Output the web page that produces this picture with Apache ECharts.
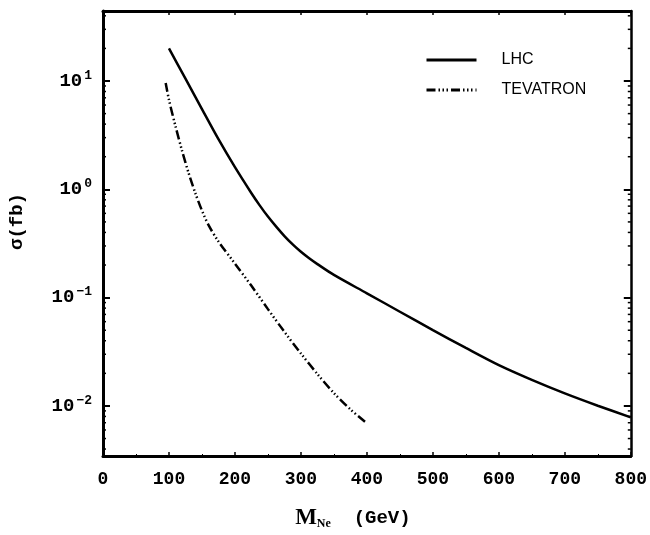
<!DOCTYPE html>
<html>
<head>
<meta charset="utf-8">
<script src="https://cdn.jsdelivr.net/npm/echarts@6/dist/echarts.min.js"></script>
<style>
  html, body { margin: 0; padding: 0; background: #fff; }
  #chart { width: 650px; height: 535px; }
</style>
</head>
<body>
<div id="chart"></div>
<script>
// values
const lhcMass = [100, 125, 150, 175, 200, 225, 237.5, 250, 262.5, 275, 287.5, 300, 312.5, 325, 350, 400, 450, 500, 550, 600, 650, 700, 750, 800];
const lhcSigma = [20, 10.5, 5.5, 2.9, 1.6, 0.92, 0.711, 0.56, 0.452, 0.37, 0.31, 0.265, 0.231, 0.204, 0.162, 0.1096, 0.0741, 0.0501, 0.0343, 0.0238, 0.0174, 0.01306, 0.01005, 0.00785];

const tevMass = [95, 100, 110, 120, 130, 140, 150, 160, 175, 200, 225, 250, 275, 300, 325, 350, 375, 400];
const tevSigma = [9.6, 6.7, 3.8, 2.25, 1.40, 0.92, 0.637, 0.467, 0.330, 0.206, 0.1285, 0.0783, 0.0483, 0.0305, 0.0197, 0.01315, 0.0093, 0.0069];

const xMin = 0, xMax = 800;
const yMin = 0.00345, yMax = 44.3;

// minor tick positions of the log axis (2..9 within each decade)
const minorTicks = [];
[0.001, 0.01, 0.1, 1, 10].forEach(d => {
    for (let m = 2; m <= 9; m++) {
        const v = d * m;
        if (v > yMin && v < yMax) minorTicks.push([v]);
    }
});

const monoFont = '"Liberation Mono", "DejaVu Sans Mono", monospace';
const serifFont = '"Liberation Serif", "DejaVu Serif", serif';

const chart = echarts.init(document.getElementById('chart'));

const baseX = {
    type: 'value',
    min: xMin,
    max: xMax,
    interval: 100,
    splitLine: { show: false },
    axisLine: { onZero: false, lineStyle: { color: '#000', width: 3 } },
    axisTick: { inside: true, length: 4, lineStyle: { color: '#000', width: 1.5 } },
    minorTick: { show: true, splitNumber: 2, length: 2, lineStyle: { color: '#000', width: 1 } },
    minorSplitLine: { show: false }
};

const baseY = {
    type: 'log',
    logBase: 10,
    min: yMin,
    max: yMax,
    splitLine: { show: false },
    axisLine: { onZero: false, lineStyle: { color: '#000', width: 3 } },
    axisTick: { inside: true, length: 7, lineStyle: { color: '#000', width: 2 } }
};

const option = {
    backgroundColor: '#fff',
    animation: false,
    grid: { left: 103, right: 18, top: 11, bottom: 79 },
    legend: {
        data: ['LHC', 'TEVATRON'],
        orient: 'vertical',
        left: 425,
        top: 52,
        padding: 0,
        itemWidth: 50,
        itemHeight: 14,
        itemGap: 14,
        itemStyle: { opacity: 0 },
        lineStyle: { width: 3 },
        textStyle: {
            fontFamily: '"Liberation Sans", Arial, sans-serif',
            fontSize: 16,
            color: '#000',
            padding: [0, 0, 0, 20]
        }
    },
    xAxis: [
        Object.assign({}, baseX, {
            position: 'bottom',
            name: '{m|M}{s|Ne}{g|  (GeV)}',
            nameLocation: 'middle',
            nameGap: 50,
            nameTextStyle: {
                padding: [0, 28, 0, 0],
                rich: {
                    m: { fontFamily: serifFont, fontWeight: 'bold', fontSize: 23, color: '#000' },
                    s: { fontFamily: serifFont, fontWeight: 'bold', fontSize: 12, color: '#000', verticalAlign: 'bottom', padding: [12, 0, 0, 0] },
                    g: { fontFamily: monoFont, fontWeight: 'bold', fontSize: 19, color: '#000' }
                }
            },
            axisLabel: {
                margin: 14,
                fontFamily: monoFont,
                fontWeight: 'bold',
                fontSize: 18,
                color: '#000'
            }
        }),
        Object.assign({}, baseX, {
            position: 'top',
            axisLabel: { show: false }
        })
    ],
    yAxis: [
        Object.assign({}, baseY, {
            position: 'left',
            name: 'σ(fb)',
            nameLocation: 'middle',
            nameGap: 76,
            nameTextStyle: {
                fontFamily: monoFont,
                fontWeight: 'bold',
                fontSize: 19,
                color: '#000',
                padding: [0, 0, 0, 24]
            },
            axisLabel: {
                margin: 11,
                showMinLabel: false,
                showMaxLabel: false,
                formatter: function (v) {
                    const e = Math.round(Math.log10(v));
                    return '{b|10}{e|' + (e < 0 ? '\u2212' + (-e) : e) + '}';
                },
                rich: {
                    b: { fontFamily: monoFont, fontWeight: 'bold', fontSize: 19, color: '#000', lineHeight: 24 },
                    e: { fontFamily: monoFont, fontWeight: 'bold', fontSize: 13, color: '#000', verticalAlign: 'top', lineHeight: 24, padding: [0, 0, 0, 2] }
                }
            }
        }),
        Object.assign({}, baseY, {
            position: 'right',
            axisLine: { onZero: false, lineStyle: { color: '#000', width: 2.5 } },
            axisLabel: { show: false }
        })
    ],
    series: [
        {
            name: 'LHC',
            type: 'line',
            data: lhcMass.map((m, i) => [m, lhcSigma[i]]),
            smooth: 0.3,
            symbol: 'none',
            lineStyle: { color: '#000', width: 2.5 },
            itemStyle: { color: '#000' }
        },
        {
            name: 'TEVATRON',
            type: 'line',
            data: tevMass.map((m, i) => [m, tevSigma[i]]),
            smooth: 0.3,
            symbol: 'none',
            lineStyle: { color: '#000', width: 2.5, type: [9, 3, 1.5, 2.5, 1.5, 2.5, 1.5, 3] },
            itemStyle: { color: '#000' }
        },
        {
            // log-spaced minor ticks on left and right axes
            type: 'custom',
            silent: true,
            data: minorTicks,
            encode: { y: 0 },
            renderItem: function (params, api) {
                const v = api.value(0);
                const l = api.coord([xMin, v]);
                const r = api.coord([xMax, v]);
                const style = { stroke: '#000', lineWidth: 1.5 };
                return {
                    type: 'group',
                    children: [
                        { type: 'line', shape: { x1: l[0], y1: l[1], x2: l[0] + 3, y2: l[1] }, style: style },
                        { type: 'line', shape: { x1: r[0], y1: r[1], x2: r[0] - 3, y2: r[1] }, style: style }
                    ]
                };
            }
        }
    ]
};

chart.setOption(option);
</script>
</body>
</html>
